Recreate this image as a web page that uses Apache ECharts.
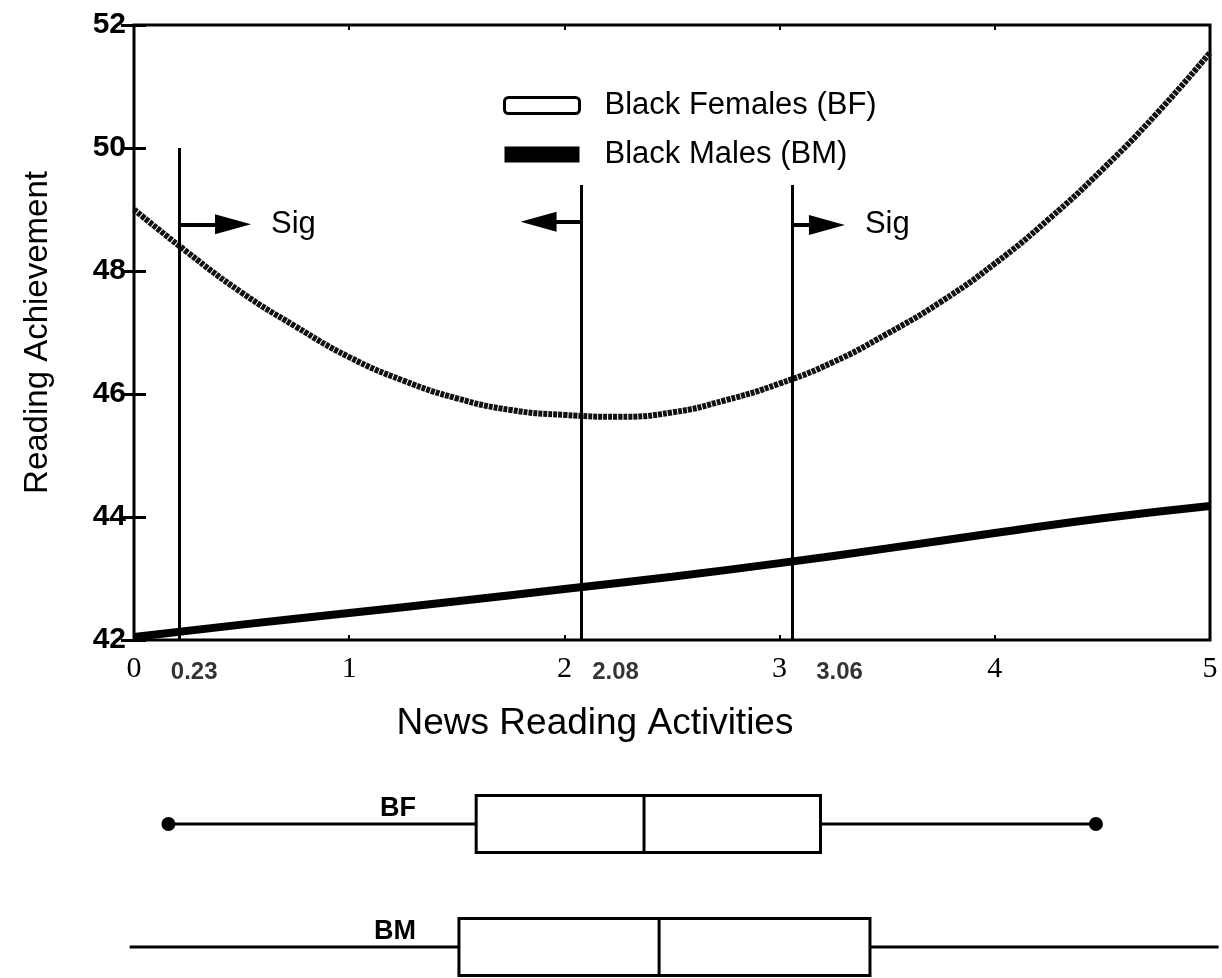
<!DOCTYPE html>
<html>
<head>
<meta charset="utf-8">
<title>Reading Achievement vs News Reading Activities</title>
<script src="https://cdn.jsdelivr.net/npm/echarts@6.0.0/dist/echarts.min.js"></script>
<style>
  html, body { margin: 0; padding: 0; background: #fff; }
  #chart { width: 1222px; height: 978px; }
</style>
</head>
<body>
<div id="chart"></div>
<script>
// Black Females curve
const bfX = [0, 0.25, 0.5, 0.75, 1, 1.25, 1.5, 1.75, 2, 2.25, 2.5, 2.75, 3, 3.25, 3.5, 3.75, 4, 4.25, 4.5, 4.75, 5];
const bfY = [49.0, 48.3, 47.65, 47.1, 46.6, 46.22, 45.93, 45.74, 45.66, 45.63, 45.7, 45.9, 46.17, 46.52, 46.98, 47.5, 48.12, 48.84, 49.65, 50.55, 51.55];

// Black Males line
const bmX = [0, 0.5, 1, 1.5, 2, 2.5, 3, 3.5, 4, 4.5, 5];
const bmY = [42.05, 42.25, 42.44, 42.63, 42.83, 43.03, 43.25, 43.49, 43.74, 43.98, 44.18];

// regions of significance
const cutPoints = [0.21, 2.08, 3.06];
const cutLabels = ['0.23', '2.08', '3.06'];
const cutTops = [50, 49.4, 49.4];
const arrowY = [48.76, 48.8, 48.75];
const arrowEnds = [0.46, 1.88, 3.22];
const arrowTexts = ['Sig', '', 'Sig'];

// box plots of the moderator: min, q1, median, q3, max
const boxNames = ['BM', 'BF'];
const boxStats = [
  [-0.02, 1.51, 2.44, 3.42, 5.04],
  [0.16, 1.59, 2.37, 3.19, 4.47]
];
const boxEndDots = [false, true];

const seriesNames = ['Black Females (BF)', 'Black Males (BM)'];

// styles
const SANS = 'Liberation Sans, Arial, sans-serif';
const SERIF = 'Liberation Serif, Times New Roman, serif';
const cutLabelShift = [15, 34, 47];
const boxHeight = 57;
const boxLabelX = 1.31;

const chart = echarts.init(document.getElementById('chart'), null, { renderer: 'canvas' });

function renderBox(params, api) {
  const idx = api.value(0);
  const pMin = api.coord([api.value(1), idx]);
  const pQ1 = api.coord([api.value(2), idx]);
  const pMed = api.coord([api.value(3), idx]);
  const pQ3 = api.coord([api.value(4), idx]);
  const pMax = api.coord([api.value(5), idx]);
  const pLab = api.coord([boxLabelX, idx]);
  const cy = pMin[1];
  const half = boxHeight / 2;
  const stroke = { stroke: '#000', lineWidth: 3, fill: null };
  const kids = [
    { type: 'line', shape: { x1: pMin[0], y1: cy, x2: pQ1[0], y2: cy }, style: stroke },
    { type: 'line', shape: { x1: pQ3[0], y1: cy, x2: pMax[0], y2: cy }, style: stroke },
    { type: 'rect', shape: { x: pQ1[0], y: cy - half, width: pQ3[0] - pQ1[0], height: boxHeight }, style: { stroke: '#000', lineWidth: 3, fill: '#fff' } },
    { type: 'line', shape: { x1: pMed[0], y1: cy - half, x2: pMed[0], y2: cy + half }, style: stroke },
    {
      type: 'text',
      style: {
        x: pLab[0], y: cy - 2, text: boxNames[idx], align: 'right', verticalAlign: 'bottom',
        font: 'bold 27px ' + SANS, fill: '#000'
      }
    }
  ];
  if (boxEndDots[idx]) {
    kids.push({ type: 'circle', shape: { cx: pMin[0], cy: cy, r: 7 }, style: { fill: '#000' } });
    kids.push({ type: 'circle', shape: { cx: pMax[0], cy: cy, r: 7 }, style: { fill: '#000' } });
  }
  return { type: 'group', children: kids };
}

const option = {
  animation: false,
  backgroundColor: '#fff',
  textStyle: { fontFamily: SANS, color: '#000' },
  legend: {
    orient: 'vertical',
    left: 498,
    top: 85,
    itemWidth: 75,
    itemHeight: 16,
    itemGap: 18,
    selectedMode: false,
    data: [
      { name: seriesNames[0], icon: 'roundRect', itemStyle: { color: '#fff', borderColor: '#000', borderWidth: 3 } },
      { name: seriesNames[1], icon: 'rect', itemStyle: { color: '#000', borderWidth: 0 } }
    ],
    textStyle: { fontSize: 31, fontFamily: SANS, color: '#000', lineHeight: 30, padding: [0, 0, 0, 20] }
  },
  grid: [
    { left: 134, right: 12, top: 25, bottom: 338, show: true, borderColor: '#000', borderWidth: 3, outerBoundsMode: 'none' },
    { left: 134, right: 12, top: 824, bottom: 31, outerBoundsMode: 'none' }
  ],
  xAxis: [
    {
      gridIndex: 0, type: 'value', min: 0, max: 5, interval: 1, position: 'bottom',
      axisLine: { show: false },
      axisTick: { inside: true, length: 5, lineStyle: { color: '#000', width: 2 } },
      axisLabel: { fontFamily: SERIF, fontSize: 30, color: '#000', margin: 14 },
      splitLine: { show: false },
      name: 'News Reading Activities',
      nameLocation: 'middle',
      nameGap: 65,
      nameTextStyle: { fontFamily: SANS, fontSize: 37, color: '#000', padding: [0, 154, 0, 0] }
    },
    {
      gridIndex: 0, type: 'value', min: 0, max: 5, interval: 1, position: 'top',
      axisLine: { show: false },
      axisTick: { inside: true, length: 5, lineStyle: { color: '#000', width: 2 } },
      axisLabel: { show: false },
      splitLine: { show: false }
    },
    { gridIndex: 1, type: 'value', min: 0, max: 5, show: false }
  ],
  yAxis: [
    {
      gridIndex: 0, type: 'value', min: 42, max: 52, interval: 2, position: 'left',
      axisLine: { show: false },
      axisTick: { inside: true, length: 12, lineStyle: { color: '#000', width: 3 } },
      axisLabel: { fontFamily: SANS, fontWeight: 'bold', fontSize: 30, color: '#000', margin: 8 },
      splitLine: { show: false },
      name: 'Reading Achievement',
      nameLocation: 'middle',
      nameGap: 80,
      nameTextStyle: { fontFamily: SANS, fontSize: 33, color: '#000' }
    },
    {
      gridIndex: 0, type: 'value', min: 42, max: 52, interval: 2, position: 'right',
      axisLine: { show: false },
      axisTick: { inside: true, length: 13, lineStyle: { color: '#000', width: 3 } },
      axisLabel: { show: false },
      splitLine: { show: false }
    },
    { gridIndex: 1, type: 'category', data: boxNames, boundaryGap: false, show: false }
  ],
  series: [
    {
      name: seriesNames[0],
      type: 'line',
      xAxisIndex: 0, yAxisIndex: 0,
      smooth: true,
      symbol: 'none',
      data: bfX.map((x, i) => [x, bfY[i]]),
      lineStyle: { color: '#111', width: 6, type: [4, 1] },
      itemStyle: { color: '#fff' },
      z: 3
    },
    {
      name: seriesNames[1],
      type: 'line',
      xAxisIndex: 0, yAxisIndex: 0,
      smooth: true,
      symbol: 'none',
      data: bmX.map((x, i) => [x, bmY[i]]),
      lineStyle: { color: '#000', width: 8 },
      itemStyle: { color: '#000' },
      z: 3,
      markLine: {
        silent: true,
        animation: false,
        lineStyle: { color: '#000', width: 3, type: 'solid' },
        label: { show: false },
        data: cutPoints.map((x, i) => [
          { coord: [x, 42], symbol: 'none' },
          { coord: [x, cutTops[i]], symbol: 'none' }
        ]).concat(cutPoints.map((x, i) => [
          { coord: [x, arrowY[i]], symbol: 'none', lineStyle: { width: 4 } },
          {
            coord: [arrowEnds[i], arrowY[i]],
            symbol: 'triangle',
            symbolSize: [20, 36],
            label: {
              show: arrowTexts[i] !== '',
              position: 'end',
              distance: 38,
              formatter: arrowTexts[i],
              fontFamily: SANS, fontSize: 31, color: '#000',
              padding: [14, 0, 0, 0]
            }
          }
        ]))
      }
    },
    {
      name: 'cut labels',
      type: 'scatter',
      xAxisIndex: 0, yAxisIndex: 0,
      symbolSize: 0,
      silent: true,
      clip: false,
      data: cutPoints.map((x, i) => ({
        value: [x, 42],
        label: {
          show: true,
          position: 'bottom',
          distance: 20,
          offset: [cutLabelShift[i], 0],
          formatter: cutLabels[i],
          fontFamily: SANS, fontWeight: 'bold', fontSize: 24, color: '#000'
        }
      }))
    },
    {
      name: 'box plots',
      type: 'custom',
      xAxisIndex: 2, yAxisIndex: 2,
      clip: false,
      silent: true,
      renderItem: renderBox,
      encode: { x: [1, 2, 3, 4, 5], y: 0 },
      data: boxStats.map((s, i) => [i].concat(s))
    }
  ]
};

chart.setOption(option);
</script>
</body>
</html>
